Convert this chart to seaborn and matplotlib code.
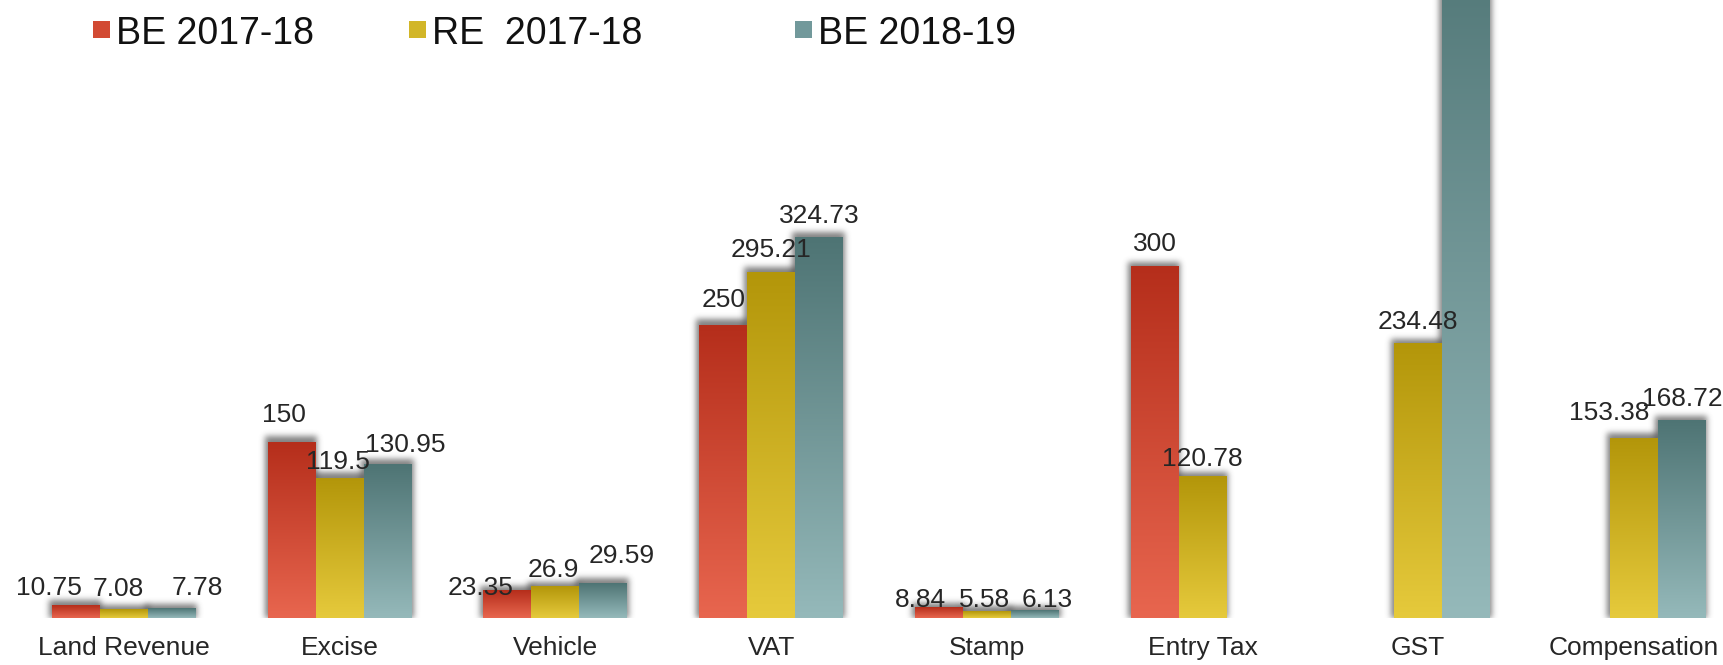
import numpy as np
import pandas as pd
import matplotlib
matplotlib.use("Agg")
import matplotlib.pyplot as plt
from matplotlib.colors import to_rgb
from matplotlib.patches import Rectangle
import seaborn as sns

# ---- data -------------------------------------------------------------
categories = ["Land Revenue", "Excise", "Vehicle", "VAT", "Stamp",
              "Entry Tax", "GST", "Compensation"]
series = ["BE 2017-18", "RE  2017-18", "BE 2018-19"]
be_2017_18 = [10.75, 150, 23.35, 250, 8.84, 300, np.nan, np.nan]
re_2017_18 = [7.08, 119.5, 26.9, 295.21, 5.58, 120.78, 234.48, 153.38]
be_2018_19 = [7.78, 130.95, 29.59, 324.73, 6.13, np.nan, 600.0, 168.72]
label_text = {
    0: ["10.75", "150", "23.35", "250", "8.84", "300", None, None],
    1: ["7.08", "119.5", "26.9", "295.21", "5.58", "120.78", "234.48", "153.38"],
    2: ["7.78", "130.95", "29.59", "324.73", "6.13", None, None, "168.72"],
}

# ---- styling ------------------------------------------------------------
W, H, DPI = 1723, 665, 100
base_colors = ["#d24a33", "#d2b628", "#72999b"]
grad_top = ["#b52e1b", "#b3960a", "#4e7474"]
grad_bottom = ["#e8664f", "#e6ca3c", "#95b9ba"]
text_color = "#262626"

sns.set_theme(style="white")
plt.rcParams["font.family"] = ["Liberation Sans", "DejaVu Sans"]

df = pd.DataFrame({
    "category": np.repeat(categories, 3),
    "series": series * len(categories),
    "value": np.column_stack([be_2017_18, re_2017_18, be_2018_19]).ravel(),
}).dropna()

fig = plt.figure(figsize=(W / DPI, H / DPI), dpi=DPI)
fig.patch.set_facecolor("white")
base_px = 47
ax = fig.add_axes([0, base_px / H, 1, 1 - base_px / H])

sns.barplot(data=df, x="category", y="value", hue="series",
            order=categories, hue_order=series,
            palette=dict(zip(series, base_colors)), saturation=1,
            width=0.667, errorbar=None, legend=False, ax=ax)

XLIM = (-0.575, 7.413)
YLIM = (0, 528)
ax.set_xlim(*XLIM)
ax.set_ylim(*YLIM)
ax.set_autoscale_on(False)
ax.set_facecolor("white")
for s in ax.spines.values():
    s.set_visible(False)
ax.set_yticks([])
ax.set_xlabel("")
ax.set_ylabel("")
ax.tick_params(axis="x", length=0, pad=13, labelsize=19, labelcolor=text_color)

fig.canvas.draw()
to_px = ax.transData
to_data = ax.transData.inverted()


def blur(a, sigma):
    r = int(3 * sigma)
    k = np.exp(-0.5 * (np.arange(-r, r + 1) / sigma) ** 2)
    k /= k.sum()
    a = np.apply_along_axis(lambda v: np.convolve(v, k, mode="same"), 0, a)
    a = np.apply_along_axis(lambda v: np.convolve(v, k, mode="same"), 1, a)
    return a


# per-label nudges: (horizontal shift px, gap above bar top px)
nudges = {
    ("Land Revenue", 0): (-27, 10), ("Land Revenue", 1): (-6, 14), ("Land Revenue", 2): (25, 14),
    ("Excise", 0): (-8, 20), ("Excise", 1): (-2, 9), ("Excise", 2): (18, 13),
    ("Vehicle", 0): (-27, -4), ("Vehicle", 1): (-2, 10), ("Vehicle", 2): (18, 20),
    ("VAT", 0): (0, 18), ("VAT", 1): (0, 15), ("VAT", 2): (0, 15),
    ("Stamp", 0): (-18, 1), ("Stamp", 1): (-2, 4), ("Stamp", 2): (12, 4),
    ("Entry Tax", 0): (0, 16), ("Entry Tax", 1): (0, 11),
    ("GST", 1): (0, 15),
    ("Compensation", 1): (-25, 18), ("Compensation", 2): (0, 15),
}

bars = [p for p in ax.patches if isinstance(p, Rectangle)
        and np.isfinite(p.get_height()) and p.get_height() > 0]
for p in bars:
    x0, w, h = p.get_x(), p.get_width(), p.get_height()
    fc = np.array(p.get_facecolor()[:3])
    si = int(np.argmin([np.abs(fc - np.array(to_rgb(c))).sum() for c in base_colors]))
    ci = int(round(x0 + w / 2))
    p.set_visible(False)

    # soft drop shadow behind the bar
    (px0, py0), (px1, py1) = to_px.transform([(x0, 0), (x0 + w, h)])
    py1c = min(py1, H + 20)
    m = 12
    wp = int(round(px1 - px0)) + 2 * m
    hp = int(round(py1c - py0)) + 2 * m
    mask = np.zeros((hp, wp))
    mask[m: m + int(round(py1c - py0)) + 5, m - 3: m + int(round(px1 - px0)) + 1] = 1.0
    mask = blur(mask, 3.0)
    mask = mask[m:, :]  # drop the part below the baseline
    rgba = np.zeros(mask.shape + (4,))
    rgba[..., :3] = 0.18
    rgba[..., 3] = 0.6 * mask
    (ex0, ey0) = to_data.transform((px0 - m, py0))
    (ex1, ey1) = to_data.transform((px0 - m + wp, py0 + mask.shape[0]))
    ax.imshow(rgba, extent=[ex0, ex1, ey0, ey1], origin="lower",
              aspect="auto", interpolation="bilinear", zorder=2)

    # vertical colour gradient, dark at the top
    t = np.linspace(0, 1, 256)[:, None]
    top, bot = np.array(to_rgb(grad_top[si])), np.array(to_rgb(grad_bottom[si]))
    grad = (top * (1 - t) + bot * t)[:, None, :]
    ax.imshow(grad, extent=[x0, x0 + w, 0, h], origin="upper",
              aspect="auto", interpolation="bilinear", zorder=3)

    # value label
    txt = label_text[si][ci]
    if txt is not None and h < YLIM[1]:
        dx, gap = nudges.get((categories[ci], si), (0, 14))
        ax.annotate(txt, xy=(x0 + w / 2, h), xytext=(dx, gap),
                    textcoords="offset pixels", ha="center", va="baseline",
                    fontsize=19, color=text_color, zorder=5)

ax.set_xlim(*XLIM)
ax.set_ylim(*YLIM)

# legend across the top
leg_x = [93, 409, 795]
for c, name, lx in zip(base_colors, series, leg_x):
    fig.patches.append(Rectangle((lx / W, 1 - 38 / H), 17 / W, 17 / H,
                                 transform=fig.transFigure, facecolor=c,
                                 edgecolor="none"))
    fig.text((lx + 23) / W, 1 - 44 / H, name, fontsize=27,
             color="#111111", ha="left", va="baseline")

fig.savefig("out.png", dpi=DPI, facecolor="white")
